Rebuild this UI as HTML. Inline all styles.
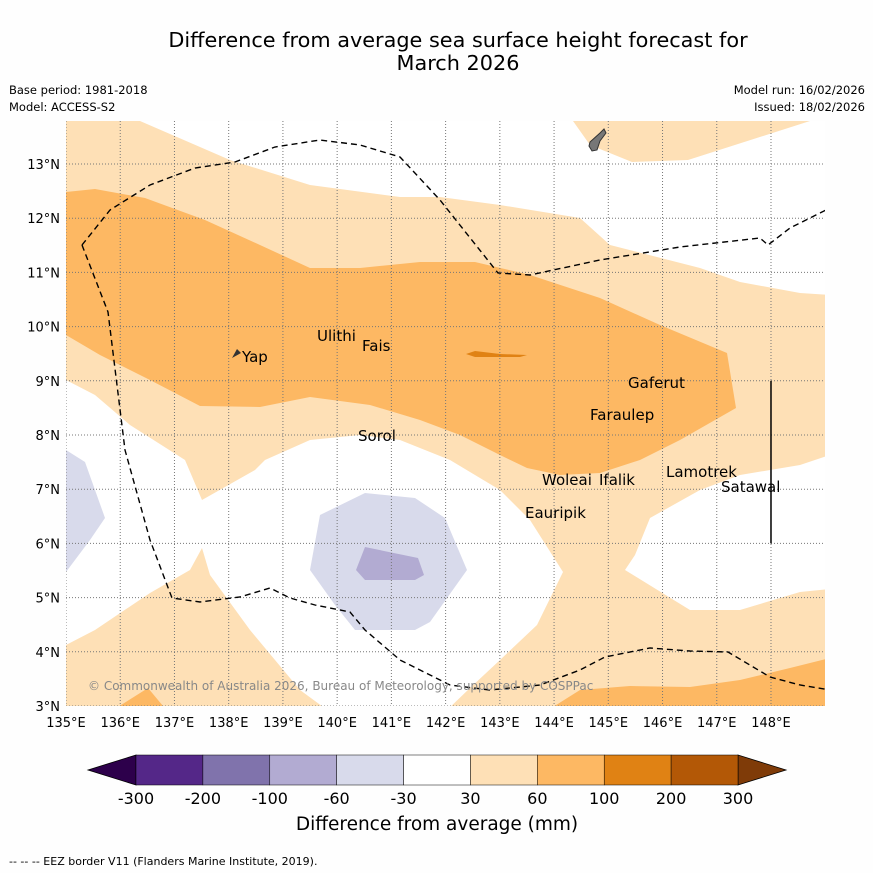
<!DOCTYPE html>
<html><head><meta charset="utf-8">
<style>
body{margin:0;background:#fff;font-family:"DejaVu Sans",sans-serif;}
svg text{font-family:"DejaVu Sans",sans-serif;}
</style></head>
<body>
<svg id="chart" width="873" height="873" viewBox="0 0 873 873" xmlns="http://www.w3.org/2000/svg">
<rect width="873" height="873" fill="#fefefe"/>
<text x="458" y="47" font-size="20.8" text-anchor="middle">Difference from average sea surface height forecast for</text>
<text x="458" y="70" font-size="20.8" text-anchor="middle">March 2026</text>
<text x="9" y="94" font-size="11.5">Base period: 1981-2018</text>
<text x="9" y="111" font-size="11.5">Model: ACCESS-S2</text>
<text x="865" y="94" font-size="11.5" text-anchor="end">Model run: 16/02/2026</text>
<text x="865" y="111" font-size="11.5" text-anchor="end">Issued: 18/02/2026</text>
<defs><clipPath id="mapclip"><rect x="66" y="121" width="759" height="585"/></clipPath></defs>
<g id="map" clip-path="url(#mapclip)"></g>
<g id="axes"></g>
<g id="cbar"></g>
<text x="437" y="830" font-size="18.5" text-anchor="middle">Difference from average (mm)</text>
<text x="9" y="865" font-size="11">--  --  -- EEZ border V11 (Flanders Marine Institute, 2019).</text>
</svg>
<script>
const lonTicks=[135,136,137,138,139,140,141,142,143,144,145,146,147,148];
const latTicks=[3,4,5,6,7,8,9,10,11,12,13];
const cbarLabels=["-300","-200","-100","-60","-30","30","60","100","200","300"];
const cbarColors=["#542788","#8073ac","#b2abd2","#d8daeb","#ffffff","#fee0b6","#fdb863","#e08214","#b35806"];
function P(arr){return arr.map(p=>[135+(p[0]-66)/54.23,3+(706-p[1])/54.2]);}
const lightOrangeBase=P([[60,115],[830,115],[830,712],[60,712]]);
const whiteTop=P([[140,115],[140,121],[230,160],[310,185],[400,197],[440,197],[500,205],[580,218],[610,245],[700,268],[740,282],[800,293],[830,295],[830,115],[810,115],[810,121],[688,160],[632,162],[590,145],[573,121],[573,115]]);
const whiteLeft=P([[60,380],[66,380],[95,395],[130,425],[185,460],[202,500],[255,470],[265,460],[310,440],[360,435],[400,440],[450,460],[500,490],[530,520],[563,572],[537,625],[500,660],[470,688],[445,712],[330,712],[300,690],[250,630],[210,575],[202,548],[190,570],[150,593],[95,630],[66,645],[60,645]]);
const whiteRight=P([[830,455],[800,465],[740,475],[700,490],[650,518],[635,555],[625,570],[690,610],[740,610],[800,592],[830,589]]);
const orangeMid=P([[60,192],[66,192],[95,189],[145,198],[205,220],[260,245],[310,268],[360,268],[420,262],[475,262],[530,275],[600,298],[660,325],[727,353],[736,408],[680,440],[640,460],[600,473],[560,475],[527,468],[500,455],[460,435],[420,420],[370,405],[310,397],[260,407],[200,406],[150,380],[100,355],[66,335],[60,335]]);
const orangeBottom=P([[545,712],[580,690],[630,686],[690,687],[740,680],[790,668],[830,658],[830,712]]);
const orangeBL=P([[110,712],[148,688],[168,712]]);
const orangeDark=P([[466,354],[475,351],[500,354],[527,355],[520,357],[475,357]]);
const lavLeft=P([[60,450],[66,450],[85,462],[105,518],[90,540],[66,572],[60,572]]);
const lavMid=P([[320,515],[365,493],[415,498],[445,518],[467,570],[430,622],[415,630],[355,630],[335,605],[310,570]]);
const lavDark=P([[365,547],[418,558],[424,575],[415,580],[365,580],[356,570]]);
const eezBottom=P([[82,245],[108,312],[125,450],[150,540],[172,598],[200,602],[240,597],[270,588],[290,598],[315,605],[350,612],[365,630],[400,660],[450,685],[490,690],[540,685],[580,670],[605,657],[650,648],[690,651],[728,652],[770,677],[800,685],[830,690]]);
const eezTop=P([[82,245],[110,210],[150,185],[195,168],[235,162],[275,147],[320,140],[360,145],[400,157],[440,200],[498,273],[530,275],[600,260],[680,247],[760,238],[768,245],[790,228],[830,208]]);
const places=[["Yap",242,362],["Ulithi",317,341],["Fais",362,351],["Sorol",358,441],["Gaferut",628,388],["Faraulep",590,420],["Woleai",542,485],["Ifalik",599,485],["Lamotrek",666,477],["Satawal",721,492],["Eauripik",525,518]].map(p=>[p[0],135+(p[1]-66)/54.23,3+(706-p[2])/54.2]);
const x=lon=>66+(lon-135)*54.23;
const y=lat=>706-(lat-3)*54.2;
const NS="http://www.w3.org/2000/svg";
function mk(tag,attrs,parent){const e=document.createElementNS(NS,tag);for(const k in attrs)e.setAttribute(k,attrs[k]);parent.appendChild(e);return e;}
const map=document.getElementById('map');
function poly(pts,fill,name){const e=mk('polygon',{points:pts.map(p=>x(p[0]).toFixed(1)+','+y(p[1]).toFixed(1)).join(' '),fill:fill},map);

}
poly(lightOrangeBase,"#fee0b6","contour-30-60");
poly(whiteTop,"#ffffff","contour-neutral-top");
poly(whiteLeft,"#ffffff","contour-neutral-left");
poly(whiteRight,"#ffffff","contour-neutral-right");
poly(orangeMid,"#fdb863","contour-60-100");
poly(orangeBottom,"#fdb863","contour-60-100-south");
poly(orangeBL,"#fdb863","contour-60-100-southwest");
poly(orangeDark,"#e08214","contour-100-200");
poly(lavLeft,"#d8daeb","contour-neg30-neg60-west");
poly(lavMid,"#d8daeb","contour-neg30-neg60");
poly(lavDark,"#b2abd2","contour-neg60-neg100");
for(const l of lonTicks){const g=mk('line',{x1:x(l),x2:x(l),y1:121,y2:706,stroke:"#777","stroke-width":1,"stroke-dasharray":"1,2"},map);

}
for(const l of latTicks){const g=mk('line',{x1:66,x2:825,y1:y(l),y2:y(l),stroke:"#777","stroke-width":1,"stroke-dasharray":"1,2"},map);

}
for(const line of [eezBottom,eezTop]){const e=mk('polyline',{points:line.map(p=>x(p[0]).toFixed(1)+','+y(p[1]).toFixed(1)).join(' '),fill:"none",stroke:"#000","stroke-width":1.4,"stroke-dasharray":"6,4"},map);

}
const sl=mk('line',{x1:x(148),x2:x(148),y1:y(9),y2:y(6),stroke:"#000","stroke-width":1.5},map);


const guam=mk('path',{d:"M590,142 L600,133 L604,129 L606,133 L600,141 L597,150 L592,151 L589,146 Z",fill:"#777",stroke:"#333","stroke-width":1},map);


const yap=mk('path',{d:"M232,358 L237,349 L241,353 Z",fill:"#333"},map);


for(const p of places){const t=mk('text',{x:x(p[1]),y:y(p[2]),"font-size":15,fill:"#000"},map);t.textContent=p[0];

}
const cp=mk('text',{x:88,y:690,"font-size":12,fill:"#888"},map);cp.textContent="© Commonwealth of Australia 2026, Bureau of Meteorology, supported by COSPPac";


const ax=document.getElementById('axes');
for(const l of lonTicks){const t=mk('text',{x:x(l),y:727,"font-size":13,"text-anchor":"middle"},ax);t.textContent=l+"°E";

}
for(const l of latTicks){const t=mk('text',{x:60,y:y(l)+5,"font-size":13,"text-anchor":"end"},ax);t.textContent=l+"°N";

}
const cb=document.getElementById('cbar');
const cx0=136,cw=(738-136)/cbarColors.length;
const lt=mk('polygon',{points:`88,770 ${cx0},755 ${cx0},785`,fill:"#2d004b",stroke:"#000","stroke-width":0.8},cb);


const rt=mk('polygon',{points:`786,770 738,755 738,785`,fill:"#7f3b08",stroke:"#000","stroke-width":0.8},cb);


cbarColors.forEach((c,i)=>{const r=mk('rect',{x:cx0+i*cw,y:755,width:cw,height:30,fill:c,stroke:"#000","stroke-width":0.5},cb);

});
cbarLabels.forEach((s,i)=>{const t=mk('text',{x:cx0+i*cw,y:804,"font-size":16,"text-anchor":"middle"},cb);t.textContent=s;

});
</script>
</body></html>
